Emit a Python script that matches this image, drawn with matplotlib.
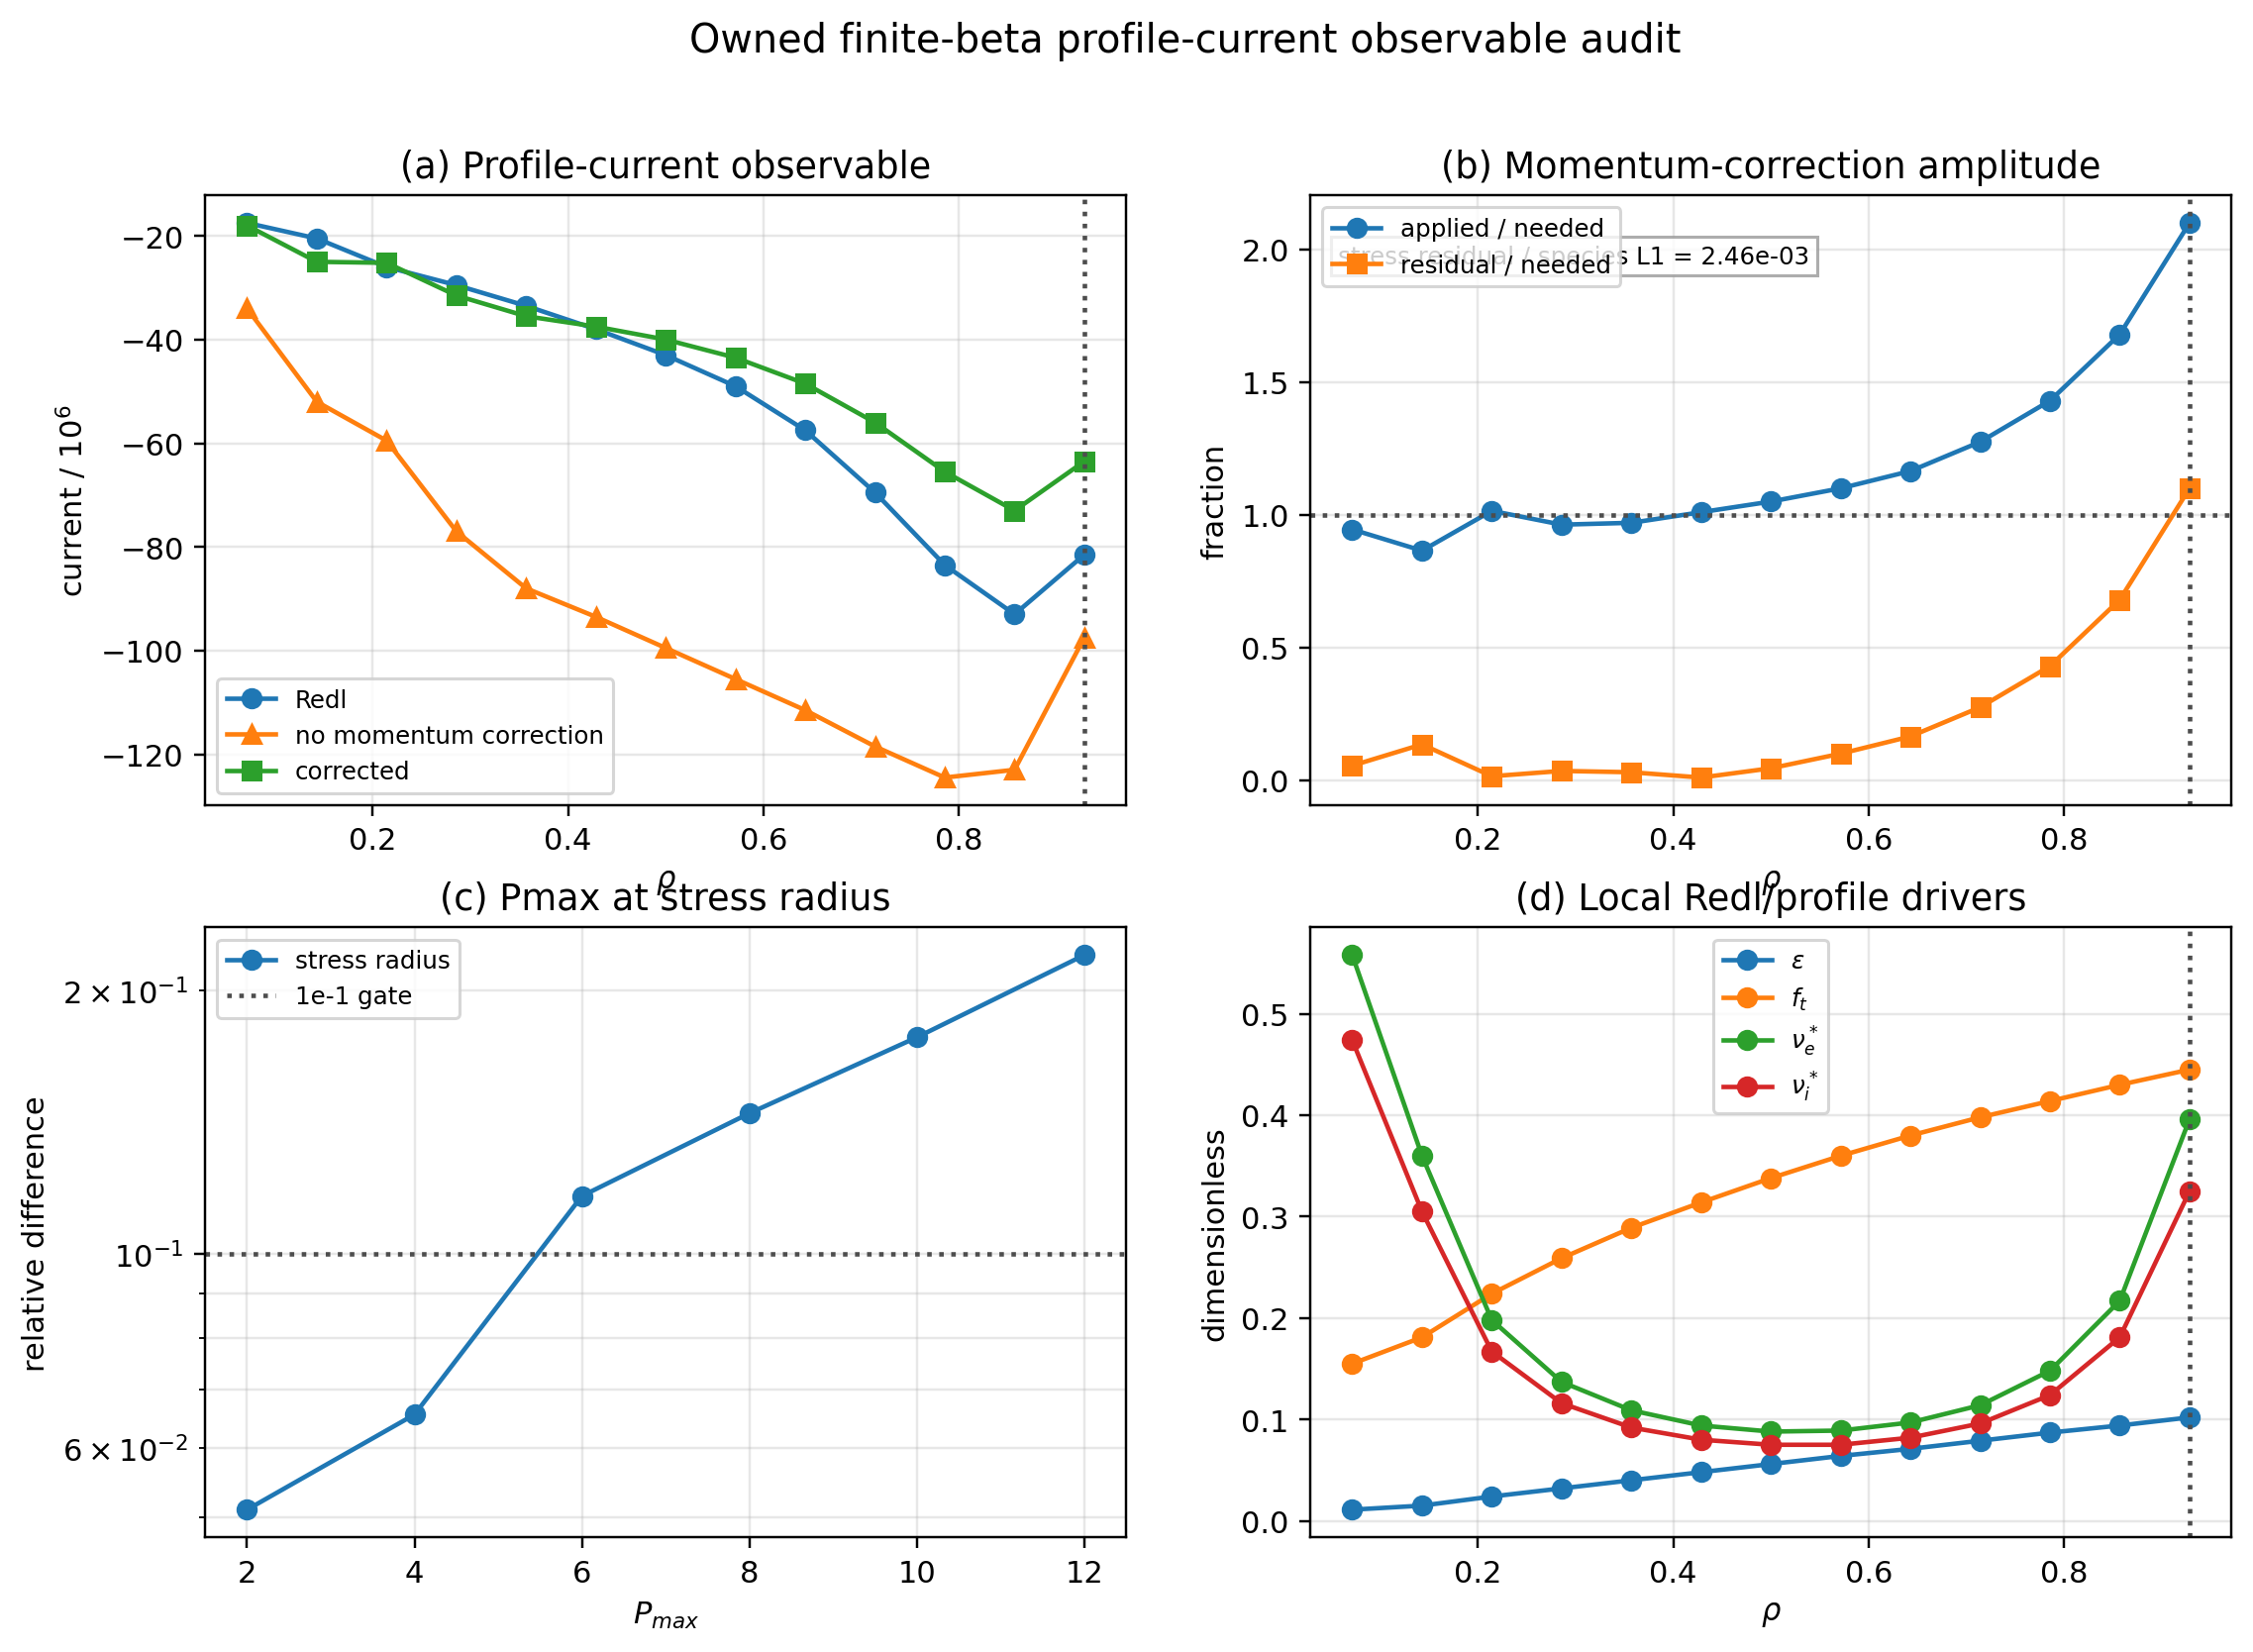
import numpy as np
import matplotlib
matplotlib.use("Agg")
import matplotlib.pyplot as plt

# radial grid, stress radius is the last point
rho = np.arange(1, 14) / 14.0
rho_stress = rho[-1]

# (a) profile-current observable, units of 1e6
j_redl = [-17.5, -20.5, -26.0, -29.5, -33.5, -38.0, -43.0, -49.0, -57.5, -69.5, -83.5, -93.0, -81.5]
j_nomom = [-34.0, -52.0, -59.5, -77.0, -88.0, -93.5, -99.5, -105.5, -111.5, -118.5, -124.5, -123.0, -97.5]
j_corr = [-18.0, -25.0, -25.2, -31.5, -35.5, -37.5, -40.0, -43.5, -48.5, -56.0, -65.5, -73.0, -63.5]

# (b) momentum-correction amplitude
applied_frac = [0.945, 0.865, 1.015, 0.963, 0.970, 1.010, 1.050, 1.100, 1.165, 1.275, 1.430, 1.680, 2.100]
residual_frac = [0.055, 0.135, 0.015, 0.035, 0.030, 0.010, 0.045, 0.100, 0.165, 0.275, 0.430, 0.680, 1.100]
stress_l1 = 2.46e-3

# (c) Pmax convergence at stress radius
pmax = [2, 4, 6, 8, 10, 12]
rel_diff = [0.0510, 0.0655, 0.1164, 0.1447, 0.1767, 0.2194]
gate = 1e-1

# (d) local Redl / profile drivers
eps = [0.011, 0.015, 0.024, 0.032, 0.040, 0.048, 0.056, 0.064, 0.071, 0.079, 0.087, 0.094, 0.102]
f_t = [0.155, 0.181, 0.224, 0.259, 0.289, 0.314, 0.338, 0.360, 0.380, 0.398, 0.414, 0.430, 0.445]
nu_e = [0.558, 0.360, 0.198, 0.137, 0.109, 0.094, 0.088, 0.089, 0.097, 0.114, 0.148, 0.217, 0.396]
nu_i = [0.474, 0.305, 0.167, 0.116, 0.092, 0.080, 0.075, 0.075, 0.082, 0.096, 0.124, 0.181, 0.325]

fig, axes = plt.subplots(2, 2, figsize=(12, 8))
fig.suptitle("Owned finite-beta profile-current observable audit", fontsize=13)
vline = dict(color="0.3", ls=":", lw=1.5)

ax = axes[0, 0]
ax.plot(rho, j_redl, "o-", label="Redl")
ax.plot(rho, j_nomom, "^-", label="no momentum correction")
ax.plot(rho, j_corr, "s-", label="corrected")
ax.axvline(rho_stress, **vline)
ax.set_title("(a) Profile-current observable")
ax.set_xlabel(r"$\rho$")
ax.set_ylabel(r"current / $10^6$")
ax.grid(alpha=0.3)
ax.legend(loc="lower left", fontsize=8)

ax = axes[0, 1]
ax.plot(rho, applied_frac, "o-", label="applied / needed")
ax.plot(rho, residual_frac, "s-", label="residual / needed")
ax.axhline(1.0, **vline)
ax.axvline(rho_stress, **vline)
ax.text(0.03, 0.90, "stress residual / species L1 = %.2e" % stress_l1,
        transform=ax.transAxes, va="center", fontsize=8,
        bbox=dict(boxstyle="square", facecolor="white", edgecolor="0.6", alpha=0.8))
ax.set_title("(b) Momentum-correction amplitude")
ax.set_xlabel(r"$\rho$")
ax.set_ylabel("fraction")
ax.grid(alpha=0.3)
ax.legend(loc="upper left", fontsize=8)

ax = axes[1, 0]
ax.semilogy(pmax, rel_diff, "o-", label="stress radius")
ax.axhline(gate, label="1e-1 gate", **vline)
ax.set_title("(c) Pmax at stress radius")
ax.set_xlabel(r"$P_{max}$")
ax.set_ylabel("relative difference")
ax.grid(alpha=0.3, which="both")
ax.legend(loc="upper left", fontsize=8)

ax = axes[1, 1]
ax.plot(rho, eps, "o-", label=r"$\varepsilon$")
ax.plot(rho, f_t, "o-", label=r"$f_t$")
ax.plot(rho, nu_e, "o-", label=r"$\nu_e^*$")
ax.plot(rho, nu_i, "o-", label=r"$\nu_i^*$")
ax.axvline(rho_stress, **vline)
ax.set_title("(d) Local Redl/profile drivers")
ax.set_xlabel(r"$\rho$")
ax.set_ylabel("dimensionless")
ax.grid(alpha=0.3)
ax.legend(loc="upper center", fontsize=8)

fig.savefig("out.png", dpi=220, bbox_inches="tight")
